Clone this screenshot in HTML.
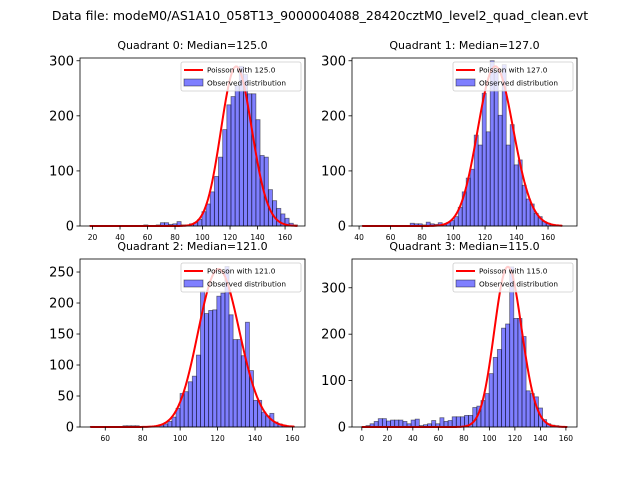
<!DOCTYPE html>
<html><head><meta charset="utf-8"><style>
body{margin:0;background:#fff;font-family:"Liberation Sans","DejaVu Sans",sans-serif}
svg text{font-family:"DejaVu Sans","Liberation Sans",sans-serif}
</style></head><body>
<svg id="chart" width="640" height="480" viewBox="0 0 640 480" xmlns="http://www.w3.org/2000/svg">
<rect width="640" height="480" fill="#fff"/>
<text x="320" y="20" text-anchor="middle" font-size="12.5">Data file: modeM0/AS1A10_058T13_9000004088_28420cztM0_level2_quad_clean.evt</text>
</svg>
<script>
// ---- data ----
const q0Counts=[1,0,0,0,0,0,0,0,0,0,0,0,0,2,1,1,2,6,6,3,4,8,2,2,4,6,12,26,40,62,90,125,175,220,235,255,290,275,240,240,193,128,125,66,46,32,22,14,5,2];
const q1Counts=[1,0,0,0,0,0,0,0,0,0,0,0,5,4,4,2,7,4,3,6,3,6,10,17,34,62,87,103,165,147,241,171,300,280,201,293,147,184,111,120,74,49,40,23,17,8,5,3,2,1];
const q2Counts=[1,0,0,0,0,0,0,0,2,2,2,2,0,0,0,0,0,3,5,9,16,30,54,57,73,82,116,219,183,188,189,211,216,259,181,141,141,115,169,91,43,43,24,18,22,8,5,3,1,1];
const q3Counts=[1,3,7,12,18,18,13,15,15,15,12,7,15,17,3,5,7,14,7,20,12,14,22,22,22,25,25,42,45,57,72,115,150,167,213,222,345,234,234,195,78,72,65,41,16,7,4,3,1,1];
const binStarts=[18,42,52,0];
const binWidths=[3.02,2.54,2.18,3.22];
const medians=[125,127,121,115];
const poissonScale=[8120,8190,7030,9280];
const yTicks=[[0,100,200,300],[0,100,200,300],[0,50,100,150,200,250],[0,100,200,300]];
const xTicks=[[20,40,60,80,100,120,140,160],[40,60,80,100,120,140,160],[60,80,100,120,140,160],[0,20,40,60,80,100,120,140,160]];
const counts=[q0Counts,q1Counts,q2Counts,q3Counts];
// ---- layout ----
const boxes=[{l:80,r:305,t:58,b:226},{l:352,r:577,t:58,b:226},{l:80,r:305,t:259,b:427},{l:352,r:577,t:259,b:427}];
const xDom=[[10.9,174.5],[35.5,178.4],[46.5,166.7],[-7.7,168.7]];
const yMax=[305,305,271,362];
const NS="http://www.w3.org/2000/svg";
const svg=document.getElementById('chart');
function mk(tag,attrs,parent){const e=document.createElementNS(NS,tag);for(const k in attrs)e.setAttribute(k,attrs[k]);(parent||svg).appendChild(e);return e;}
function logFact(k){let s=0;for(let i=2;i<=k;i++)s+=Math.log(i);return s;}
function pois(k,l){return Math.exp(k*Math.log(l)-l-logFact(k));}
for(let p=0;p<4;p++){
  const B=boxes[p];
  const sx=v=>B.l+(v-xDom[p][0])/(xDom[p][1]-xDom[p][0])*(B.r-B.l);
  const sy=v=>B.b-v/yMax[p]*(B.b-B.t);
  const g=mk('g',{});
  
  
  const ti=mk('text',{x:(B.l+B.r)/2,y:B.t-9,'text-anchor':'middle','font-size':'11'},g);
  
  
  ti.textContent='Quadrant '+p+': Median='+medians[p].toFixed(1);
  counts[p].forEach((c,i)=>{
    if(c<=0)return;
    const x0=binStarts[p]+i*binWidths[p];
    const r=mk('rect',{x:sx(x0),y:sy(c),width:sx(x0+binWidths[p])-sx(x0),height:sy(0)-sy(c),fill:'rgba(0,0,255,0.5)',stroke:'rgba(0,0,0,0.5)','stroke-width':'0.8'},g);
    
    
  });
  const end=binStarts[p]+counts[p].length*binWidths[p];
  let d='';
  for(let k=Math.ceil(binStarts[p]);k<=Math.floor(end);k++){
    const v=pois(k,medians[p])*poissonScale[p];
    d+=(d?'L':'M')+sx(k).toFixed(2)+','+sy(v).toFixed(2);
  }
  const pl=mk('path',{d:d,fill:'none',stroke:'red','stroke-width':'2'},g);
  
  
  const ax=mk('rect',{x:B.l,y:B.t,width:B.r-B.l,height:B.b-B.t,fill:'none',stroke:'#000','stroke-width':'0.8'},g);
  
  
  yTicks[p].forEach(v=>{
    mk('line',{x1:B.l-3.5,x2:B.l,y1:sy(v),y2:sy(v),stroke:'#000','stroke-width':'0.8'},g);
    const t=mk('text',{x:B.l-6,y:sy(v)+4.5,'text-anchor':'end','font-size':'13'},g);
    
    
    t.textContent=v;
  });
  xTicks[p].forEach(v=>{
    mk('line',{x1:sx(v),x2:sx(v),y1:B.b,y2:B.b+3.5,stroke:'#000','stroke-width':'0.8'},g);
    const t=mk('text',{x:sx(v),y:B.b+14,'text-anchor':'middle','font-size':'7.5'},g);
    
    
    t.textContent=v;
  });
  const lg=mk('g',{},g);
  
  
  const lx=B.r-124,ly=B.t+4;
  mk('rect',{x:lx,y:ly,width:120,height:29,rx:2,fill:'rgba(255,255,255,0.8)',stroke:'#ccc','stroke-width':'0.8'},lg);
  mk('line',{x1:lx+3,x2:lx+22,y1:ly+8,y2:ly+8,stroke:'red','stroke-width':'2'},lg);
  const t1=mk('text',{x:lx+26,y:ly+10.5,'font-size':'7.3'},lg);
  
  
  t1.textContent='Poisson with '+medians[p].toFixed(1);
  mk('rect',{x:lx+3,y:ly+17,width:19,height:7,fill:'rgba(0,0,255,0.5)',stroke:'rgba(0,0,0,0.5)','stroke-width':'0.8'},lg);
  const t2=mk('text',{x:lx+26,y:ly+23.5,'font-size':'7.3'},lg);
  
  
  t2.textContent='Observed distribution';
}
</script>
</body></html>
